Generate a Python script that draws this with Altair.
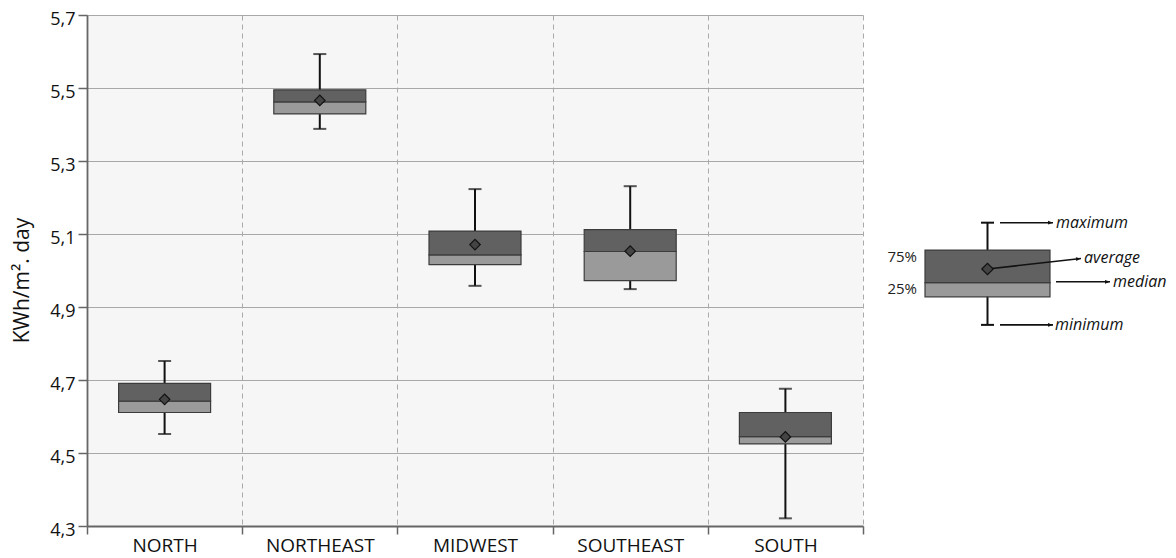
import altair as alt
import pandas as pd

# ---- data (KWh/m².day) ----
regions = ["NORTH", "NORTHEAST", "MIDWEST", "SOUTHEAST", "SOUTH"]
minimum = [4.552, 5.388, 4.958, 4.949, 4.321]
q1 = [4.611, 5.429, 5.016, 4.972, 4.525]
median = [4.642, 5.462, 5.043, 5.052, 4.545]
q3 = [4.691, 5.495, 5.108, 5.112, 4.611]
maximum = [4.752, 5.593, 5.223, 5.231, 4.676]
average = [4.647, 5.466, 5.071, 5.053, 4.544]
y_ticks = [4.3, 4.5, 4.7, 4.9, 5.1, 5.3, 5.5, 5.7]

# ---- key diagram (legend) values, in the same KWh units ----
key_center = [10.95]
key_box_x = [4.7, 17.2]
key_cap_x = [10.3, 11.6]
key_stats = {"min": 4.851, "q1": 4.928, "median": 4.967, "q3": 5.056, "max": 5.131, "avg": 5.004}
key_pct_labels = ["75%", "25%"]
key_pct_y = [5.037, 4.949]
key_pct_x = [3.9, 3.9]
arrow_names = ["maximum", "average", "median", "minimum"]
arrow_x1 = [12.2, 10.95, 17.8, 12.2]
arrow_y1 = [5.131, 5.004, 4.969, 4.851]
arrow_x2 = [17.5, 20.3, 23.2, 17.5]
arrow_y2 = [5.131, 5.033, 4.969, 4.851]
arrow_text_x = [17.8, 20.6, 23.5, 17.7]
arrow_angle = [0, 353.5, 0, 0]

FONT = "Open Sans"
DARK = "#616161"
LIGHT = "#9a9a9a"
EDGE = "#3c3c3c"

df = pd.DataFrame({
    "region": regions, "min": minimum, "q1": q1, "median": median,
    "q3": q3, "max": maximum, "avg": average,
})

x_enc = alt.X(
    "region:N", sort=regions, title=None,
    scale=alt.Scale(paddingInner=0, paddingOuter=0),
    axis=alt.Axis(
        tickBand="extent", labelAngle=0, labelFontSize=19, labelFont=FONT,
        labelColor="#111", labelPadding=2, tickSize=8, tickColor="#666",
        tickWidth=1.5, domainColor="#666", domainWidth=1.8,
        grid=True, gridDash=[5, 4], gridColor="#aaaaaa", gridWidth=1,
    ),
)
y_scale = alt.Scale(domain=[4.3, 5.7], nice=False, zero=False)
y_axis = alt.Axis(
    values=y_ticks, labelExpr="replace(format(datum.value, '.1f'), '.', ',')",
    labelFontSize=18, labelFont=FONT, labelColor="#111", labelPadding=3, labelOffset=4,
    tickSize=9, tickColor="#666", tickWidth=1.5, domainColor="#666", domainWidth=1.8,
    grid=True, gridColor="#a8a8a8", gridWidth=1.2,
    title="KWh/m². day", titleFont=FONT, titleFontSize=21, titleFontWeight="normal",
    titleColor="#111", titlePadding=17, titleY=265,
)

base = alt.Chart(df)
whisker = base.mark_rule(color="#111", strokeWidth=2).encode(
    x=x_enc, y=alt.Y("min:Q", scale=y_scale, axis=y_axis), y2="max:Q")
caps_max = base.mark_tick(color="#111", thickness=2, size=13).encode(x=x_enc, y="max:Q")
caps_min = base.mark_tick(color="#111", thickness=2, size=13).encode(x=x_enc, y="min:Q")
box_low = base.mark_bar(size=92, color=LIGHT, stroke=EDGE, strokeWidth=1.2).encode(
    x=x_enc, y="q1:Q", y2="median:Q")
box_high = base.mark_bar(size=92, color=DARK, stroke=EDGE, strokeWidth=1.2).encode(
    x=x_enc, y="median:Q", y2="q3:Q")
mean_pt = base.mark_point(shape="diamond", filled=True, size=110, color="#444",
                          stroke="#111", strokeWidth=1.2, opacity=1).encode(
    x=x_enc, y="avg:Q")

main = alt.layer(whisker, caps_max, caps_min, box_low, box_high, mean_pt).properties(
    width=776, height=511, view=alt.ViewBackground(fill="#f6f6f6", stroke=None))

# ---- key diagram ----
kx = alt.Scale(domain=[0, 29], nice=False, zero=False)
ky = alt.Scale(domain=[4.3, 5.7], nice=False, zero=False)
kdf = pd.DataFrame({"x": key_center, "min": [key_stats["min"]], "q1": [key_stats["q1"]],
                    "median": [key_stats["median"]], "q3": [key_stats["q3"]],
                    "max": [key_stats["max"]], "avg": [key_stats["avg"]],
                    "bx1": [key_box_x[0]], "bx2": [key_box_x[1]],
                    "cx1": [key_cap_x[0]], "cx2": [key_cap_x[1]]})
kb = alt.Chart(kdf)
k_whisk = kb.mark_rule(color="#111", strokeWidth=2).encode(
    x=alt.X("x:Q", scale=kx, axis=None), y=alt.Y("min:Q", scale=ky, axis=None), y2="max:Q")
k_cap1 = kb.mark_rule(color="#111", strokeWidth=2).encode(x="cx1:Q", x2="cx2:Q", y="max:Q")
k_cap2 = kb.mark_rule(color="#111", strokeWidth=2).encode(x="cx1:Q", x2="cx2:Q", y="min:Q")
k_low = kb.mark_rect(color=LIGHT, stroke=EDGE, strokeWidth=1.2).encode(
    x="bx1:Q", x2="bx2:Q", y="q1:Q", y2="median:Q")
k_high = kb.mark_rect(color=DARK, stroke=EDGE, strokeWidth=1.2).encode(
    x="bx1:Q", x2="bx2:Q", y="median:Q", y2="q3:Q")

adf = pd.DataFrame({"name": arrow_names, "x1": arrow_x1, "y1": arrow_y1,
                    "x2": arrow_x2, "y2": arrow_y2, "tx": arrow_text_x, "angle": arrow_angle})
ab = alt.Chart(adf)
k_lines = ab.mark_rule(color="#111", strokeWidth=1.6).encode(
    x="x1:Q", x2="x2:Q", y="y1:Q", y2="y2:Q")
k_heads = ab.mark_point(shape="M0,0L-1,-0.38L-1,0.38Z", filled=True, size=100,
                        color="#111", opacity=1).encode(
    x="x2:Q", y="y2:Q", angle=alt.Angle("angle:Q", scale=None))
k_text = ab.mark_text(align="left", baseline="middle", fontStyle="italic", font=FONT,
                      fontSize=16, color="#111").encode(x="tx:Q", y="y2:Q", text="name:N")
k_mean = kb.mark_point(shape="diamond", filled=True, size=130, color="#444",
                       stroke="#111", strokeWidth=1.2, opacity=1).encode(x="x:Q", y="avg:Q")

pdf = pd.DataFrame({"label": key_pct_labels, "x": key_pct_x, "y": key_pct_y})
k_pct = alt.Chart(pdf).mark_text(align="right", baseline="middle", font=FONT, fontSize=15,
                                 color="#222").encode(x="x:Q", y="y:Q", text="label:N")

key = alt.layer(k_whisk, k_cap1, k_cap2, k_low, k_high, k_lines, k_heads, k_mean,
                k_text, k_pct).properties(
    width=290, height=511, view=alt.ViewBackground(fill="white", stroke=None))

chart = alt.hconcat(main, key, spacing=14).resolve_scale(x="independent", y="independent").properties(
    padding={"left": 3, "top": 2, "right": 0, "bottom": 2}
).configure_view(strokeWidth=0).configure(font=FONT)

chart.save("out.html", embed_options={"renderer": "svg", "actions": False})
